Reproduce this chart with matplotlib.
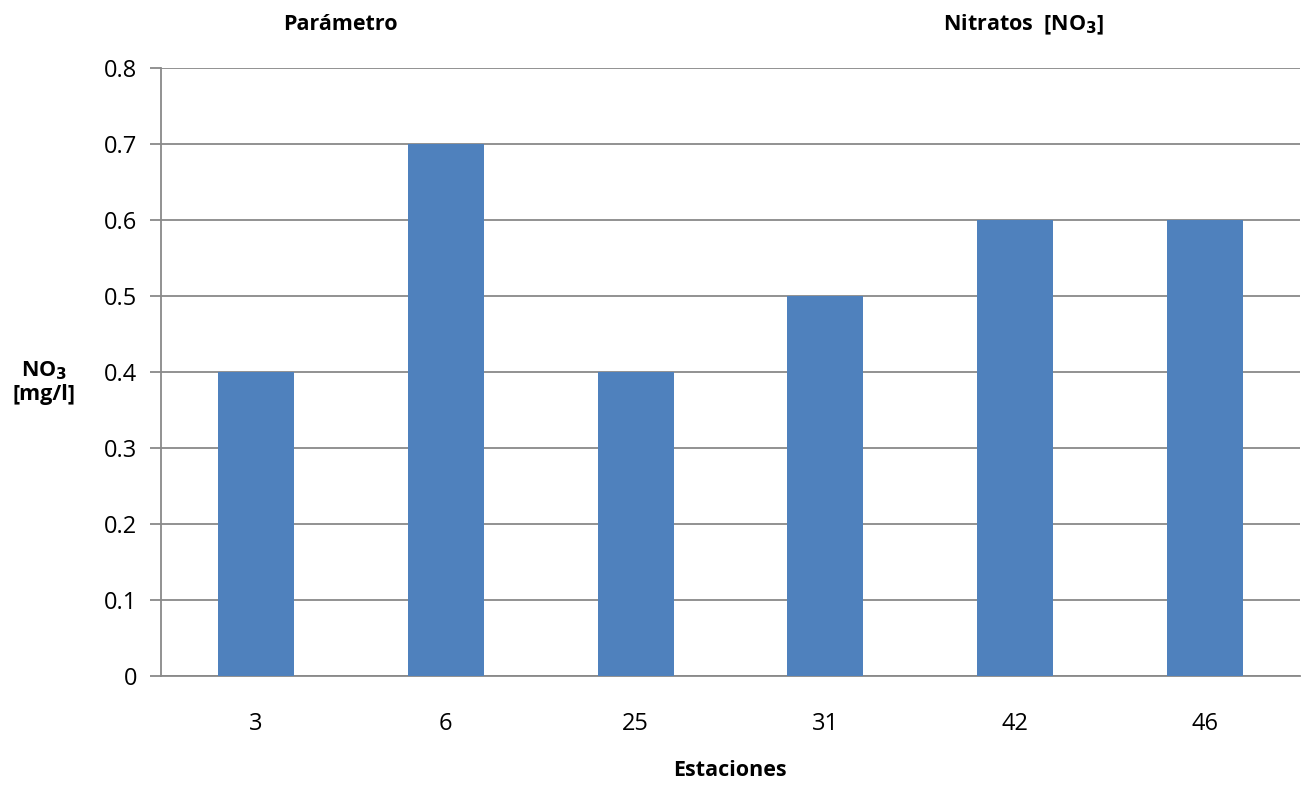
import matplotlib
matplotlib.use("Agg")
import matplotlib.pyplot as plt

estaciones = ["3", "6", "25", "31", "42", "46"]
nitratos = [0.4, 0.7, 0.4, 0.5, 0.6, 0.6]
y_ticks = [0, 0.1, 0.2, 0.3, 0.4, 0.5, 0.6, 0.7, 0.8]
y_tick_labels = ["0", "0.1", "0.2", "0.3", "0.4", "0.5", "0.6", "0.7", "0.8"]

plt.rcParams['font.family'] = ['Open Sans', 'DejaVu Sans']

fig = plt.figure(figsize=(13.01, 7.85), dpi=100)
ax = fig.add_axes([161/1301, 1-676/785, (1300-161)/1301, (676-68)/785])

x = list(range(len(estaciones)))
ax.bar(x, nitratos, width=0.4, color="#4F81BD", zorder=3)
ax.set_xlim(-0.5, len(estaciones) - 0.5)
ax.set_ylim(0, 0.8)
ax.set_yticks(y_ticks)
ax.set_yticklabels(y_tick_labels)
ax.set_xticks(x)
ax.set_xticklabels(estaciones)

grid_c = "#898989"
ax.grid(axis="y", color=grid_c, linewidth=1.3, zorder=0)
for s in ["top", "right"]:
    ax.spines[s].set_visible(False)
ax.spines["left"].set_color(grid_c)
ax.spines["left"].set_linewidth(1.3)
ax.spines["bottom"].set_color(grid_c)
ax.spines["bottom"].set_linewidth(1.3)
ax.tick_params(axis="y", length=8, width=1.3, color=grid_c, labelsize=17, pad=9)
ax.tick_params(axis="x", length=0, labelsize=17, pad=26)

fig.text(340/1301, 1-25/785, "Parámetro", ha="center", va="center", fontsize=15.5, fontweight="bold")
fig.text(1024/1301, 1-25/785, "Nitratos  [NO$_\\mathbf{3}$]", ha="center", va="center", fontsize=15.5, fontweight="bold")
fig.text(44/1301, 1-382/785, "NO$_\\mathbf{3}$\n[mg/l]", ha="center", va="center", fontsize=15.5, fontweight="bold", linespacing=1.15)
fig.text(730/1301, 1-771/785, "Estaciones", ha="center", va="center", fontsize=15.5, fontweight="bold")

fig.savefig("out.png", dpi=100)
